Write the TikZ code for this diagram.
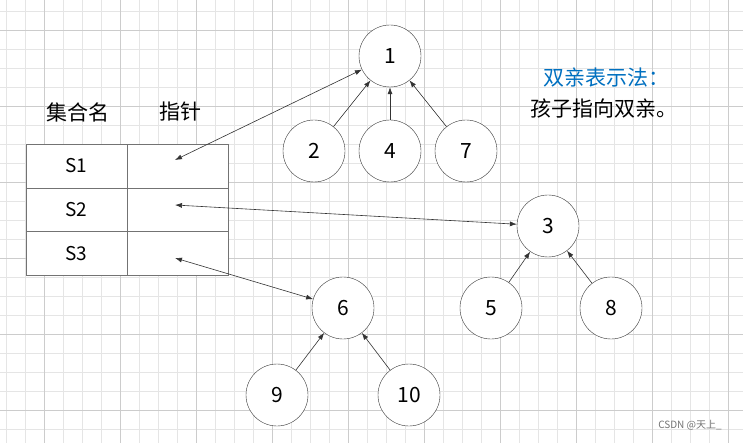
\documentclass[tikz,border=0pt]{standalone}
\usepackage{fontspec}
\setmainfont{Noto Sans CJK SC}
\usetikzlibrary{arrows.meta}
\begin{document}
\begin{tikzpicture}[x=1pt,y=-1pt,
  nd/.style={circle,draw=black!80,fill=white,minimum size=62pt,inner sep=0pt,font=\fontsize{21}{23}\selectfont},
  cell/.style={draw=black!55,minimum width=101pt,minimum height=43.7pt,inner sep=0pt,font=\fontsize{19}{21}\selectfont},
  ar/.style={-{Latex[length=7pt,width=5pt]},black!80,line width=0.6pt},
  dar/.style={{Latex[length=7pt,width=5pt]}-{Latex[length=7pt,width=5pt]},black!80,line width=0.6pt}]
\useasboundingbox (0,0) rectangle (743,443);
\fill[white] (0,0) rectangle (743,443);
\foreach \x in {6.5,25.5,...,743} \draw[black!10,line width=0.6pt] (\x,0) -- (\x,443);
\foreach \y in {11.7,30.7,...,443} \draw[black!10,line width=0.6pt] (0,\y) -- (743,\y);
\foreach \x in {44.5,120.5,...,743} \draw[black!20,line width=0.8pt] (\x,0) -- (\x,443);
\foreach \y in {30.7,106.7,...,443} \draw[black!20,line width=0.8pt] (0,\y) -- (743,\y);
\node[font=\fontsize{21}{23}\selectfont] (h1) at (78,112) {集合名};
\node[font=\fontsize{21}{23}\selectfont] (h2) at (180,112) {指针};
\node[cell,fill=white] (s1) at (76.5,166) {S1};
\node[cell,fill=white] (p1) at (177.5,166) {};
\node[cell,fill=white] (s2) at (76.5,210) {S2};
\node[cell,fill=white] (p2) at (177.5,210) {};
\node[cell,fill=white] (s3) at (76.5,253.5) {S3};
\node[cell,fill=white] (p3) at (177.5,253.5) {};
\coordinate (c1) at (175,160);
\coordinate (c2) at (175,205);
\coordinate (c3) at (175,258);
\node[nd] (n1) at (390,56) {1};
\node[nd] (n2) at (314,151) {2};
\node[nd] (n4) at (390,151) {4};
\node[nd] (n7) at (466,151) {7};
\node[nd] (n3) at (548,226) {3};
\node[nd] (n5) at (491,308) {5};
\node[nd] (n8) at (611,308) {8};
\node[nd] (n6) at (343,308) {6};
\node[nd] (n9) at (277,395) {9};
\node[nd] (n10) at (409,395) {10};
\draw[ar] (n2) -- (n1);
\draw[ar] (n4) -- (n1);
\draw[ar] (n7) -- (n1);
\draw[ar] (n5) -- (n3);
\draw[ar] (n8) -- (n3);
\draw[ar] (n9) -- (n6);
\draw[ar] (n10) -- (n6);
\draw[dar] (c1) -- (n1);
\draw[dar] (c2) -- (n3);
\draw[dar] (c3) -- (n6);
\node[font=\fontsize{21}{23}\selectfont,text={rgb,255:red,0;green,112;blue,192}] (t1) at (606,78) {双亲表示法：};
\node[font=\fontsize{21}{23}\selectfont] (t2) at (604,108) {孩子指向双亲。};
\node[font=\fontsize{10}{12}\selectfont,text=black!55] (wm) at (690,425) {CSDN @天上\_};
\end{tikzpicture}
\end{document}
